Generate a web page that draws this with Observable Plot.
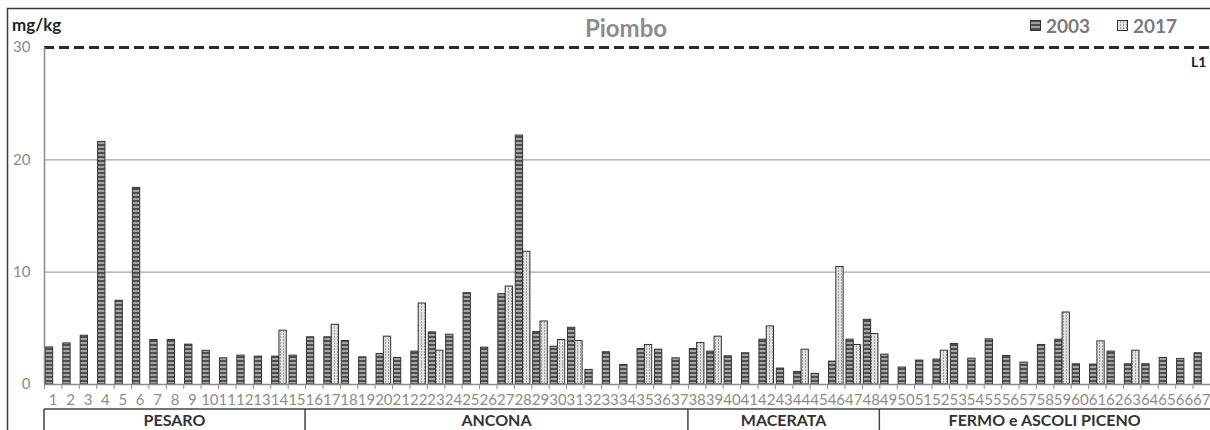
<!DOCTYPE html>
<html>
<head>
<meta charset="utf-8">
<script src="https://cdn.jsdelivr.net/npm/d3@7"></script>
<script src="https://cdn.jsdelivr.net/npm/@observablehq/plot@0.6"></script>
<style>
  html, body { margin: 0; padding: 0; background: #fff; overflow: hidden; }
  #chart { position: relative; width: 1210px; height: 430px; }
</style>
</head>
<body>
<div id="chart"></div>
<script>
// Sampling sites (1–67) and lead concentrations (mg/kg) for the two campaigns
const sites = d3.range(1, 68);
const lead2003 = [
  3.3, 3.66, 4.34, 21.6, 7.45, 17.5, 3.96, 3.96, 3.55, 3.0, 2.33, 2.57, 2.48, 2.48, 2.57,
  4.2, 4.2, 3.87, 2.42, 2.72, 2.36, 2.93, 4.64, 4.43, 8.13, 3.28, 8.04, 22.16, 4.67, 3.37, 5.05, 1.3, 2.87,
  1.74, 3.16, 3.1, 2.33, 3.16, 2.93, 2.51, 2.78, 3.99, 1.42, 1.12, 0.95, 2.04, 3.99, 5.76, 2.66, 1.51,
  2.13, 2.22, 3.6, 2.3, 4.02, 2.54, 1.95, 3.52, 3.99, 1.8, 1.77, 2.93, 1.8, 1.8, 2.36, 2.28, 2.78
];
const lead2017 = [
  null, null, null, null, null, null, null, null, null, null, null, null, null, 4.79, null,
  null, 5.32, null, null, 4.26, null, 7.21, 3.01, null, null, null, 8.72, 11.82, 5.61, 3.96, 3.87, null, null,
  null, 3.52, null, null, 3.69, 4.26, null, null, 5.17, null, 3.1, null, 10.46, 3.52, 4.49, null, null,
  null, 3.01, null, null, null, null, null, null, 6.41, null, 3.84, null, 3.01, null, null, null, null
];
const years = ["2003", "2017"];
const provinces = ["PESARO", "ANCONA", "MACERATA", "FERMO e ASCOLI PICENO"];
const provinceLastSite = [15, 37, 48, 67];
const yTicks = [0, 10, 20, 30];
const limitL1 = 30;

const rows2003 = sites.map((s, i) => ({site: s, value: lead2003[i]})).filter(d => d.value != null);
const rows2017 = sites.map((s, i) => ({site: s, value: lead2017[i]})).filter(d => d.value != null);
const boundaries = [0, ...sites].map(s => s + 0.5);
const groups = provinces.map((name, i) => {
  const first = i === 0 ? 1 : provinceLastSite[i - 1] + 1;
  return {name, start: first - 0.5, end: provinceLastSite[i] + 0.5};
});

const FONT = "Lato, 'Liberation Sans', sans-serif";
const BAR_HALF = 0.42;

const plot = Plot.plot({
  width: 1210,
  height: 430,
  marginLeft: 44,
  marginRight: 0,
  marginTop: 47,
  marginBottom: 46,
  style: {fontFamily: FONT, background: "white", overflow: "hidden"},
  x: {type: "linear", domain: [0.5, 67.5], axis: null},
  y: {domain: [0, 30], axis: null},
  marks: [
    Plot.ruleY([10, 20], {stroke: "#a6a6a6", strokeWidth: 1.3}),
    Plot.ruleY([limitL1], {stroke: "#2b2b2b", strokeWidth: 3, strokeDasharray: "10,5"}),
    Plot.text(["L1"], {x: 67.5, y: limitL1, text: d => d, textAnchor: "end", dx: -4, dy: 15,
      fontWeight: "bold", fontSize: 14, fill: "#222"}),
    Plot.rectY(rows2003, {x1: d => d.site - BAR_HALF, x2: d => d.site, y: "value",
      fill: "url(#pat2003)", stroke: "#333", strokeWidth: 1}),
    Plot.rectY(rows2017, {x1: d => d.site, x2: d => d.site + BAR_HALF, y: "value",
      fill: "url(#pat2017)", stroke: "#333", strokeWidth: 1}),
    Plot.ruleX([0.5], {stroke: "#8c8c8c", strokeWidth: 1.5}),
    Plot.ruleY([0], {stroke: "#8c8c8c", strokeWidth: 1.5}),
    Plot.axisY({ticks: yTicks, tickSize: 0, tickPadding: 14, fontSize: 15, fill: "#8c8c8c", label: null}),
    Plot.axisX({ticks: boundaries, tickSize: 5, tickFormat: () => "", stroke: "#8c8c8c", label: null}),
    Plot.axisX({ticks: sites, tickSize: 0, tickPadding: 10, fontSize: 15, fill: "#8c8c8c",
      tickFormat: d => String(d), label: null})
  ]
});

document.getElementById("chart").appendChild(plot);

// Fill patterns for the two campaign series
const svg = d3.select(plot);
const defs = svg.insert("defs", ":first-child");
const p03 = defs.append("pattern").attr("id", "pat2003").attr("patternUnits", "userSpaceOnUse")
  .attr("width", 4).attr("height", 4);
p03.append("rect").attr("width", 4).attr("height", 4).attr("fill", "#a3a3a3");
p03.append("rect").attr("width", 4).attr("height", 2).attr("fill", "#4f4f4f");
const p17 = defs.append("pattern").attr("id", "pat2017").attr("patternUnits", "userSpaceOnUse")
  .attr("width", 3).attr("height", 3);
p17.append("rect").attr("width", 3).attr("height", 3).attr("fill", "#e2e2e2");
p17.append("rect").attr("x", 1).attr("width", 1).attr("height", 2).attr("fill", "#a0a0a0");

// Outer chart border
svg.append("rect").attr("x", 7.5).attr("y", 8.5).attr("width", 1400).attr("height", 600)
  .attr("fill", "none").attr("stroke", "#3a3a3a").attr("stroke-width", 1.5);

const addText = (x, y, str, opts) => {
  const t = svg.append("text").attr("x", x).attr("y", y).text(str)
    .attr("font-family", FONT).attr("font-weight", "bold")
    .attr("text-anchor", opts.anchor || "start")
    .attr("font-size", opts.size).attr("fill", opts.fill);
  return t;
};

// Headings: unit, title, legend
addText(12, 31, "mg/kg", {size: 17, fill: "#222"});
addText(626, 37, "Piombo", {size: 24, fill: "#8c8c8c", anchor: "middle"});
const legendX = [1030, 1117];
years.forEach((yr, i) => {
  svg.append("rect").attr("x", legendX[i] + 0.5).attr("y", 20.5).attr("width", 10).attr("height", 10)
    .attr("fill", `url(#pat${yr})`).attr("stroke", "#333").attr("stroke-width", 1);
  addText(legendX[i] + 16, 33, yr, {size: 19, fill: "#7a7a7a"});
});

// Province grouping row under the site labels
const xs = plot.scale("x");
const boxTop = 409;
svg.append("line").attr("x1", xs.apply(0.5)).attr("x2", 1210).attr("y1", boxTop).attr("y2", boxTop)
  .attr("stroke", "#444").attr("stroke-width", 1.5);
groups.forEach(g => {
  const x0 = xs.apply(g.start), x1 = xs.apply(g.end);
  svg.append("line").attr("x1", x0).attr("x2", x0).attr("y1", boxTop).attr("y2", 430)
    .attr("stroke", "#444").attr("stroke-width", 1.5);
  addText((x0 + x1) / 2, 425.5, g.name, {size: 16, fill: "#333", anchor: "middle"});
});
</script>
</body>
</html>
